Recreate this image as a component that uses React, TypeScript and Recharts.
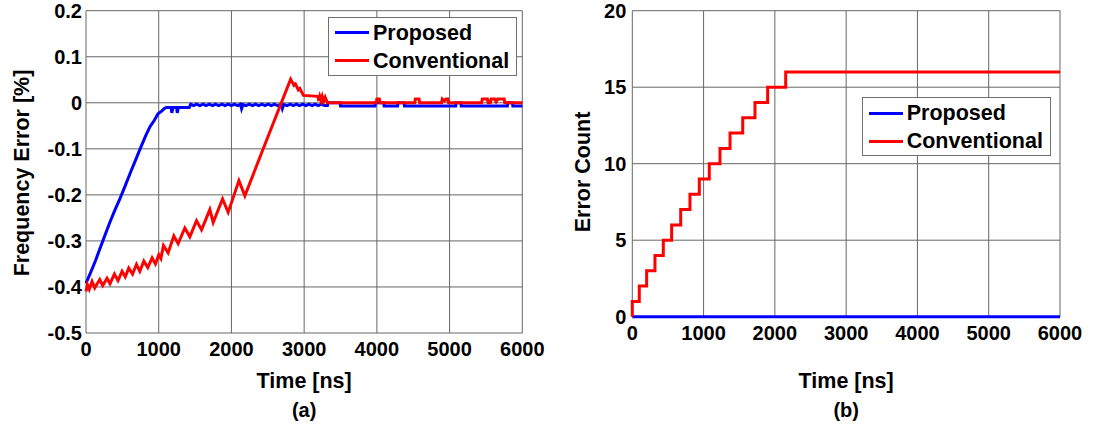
import React from 'react';
import { LineChart, Line, XAxis, YAxis, CartesianGrid, Legend, Label } from 'recharts';

const FONT = "'Liberation Sans', Arial, Helvetica, sans-serif";

// ---------- data ----------
const timeTicks = [0, 1000, 2000, 3000, 4000, 5000, 6000];
const freqTicks = [-0.5, -0.4, -0.3, -0.2, -0.1, 0, 0.1, 0.2];
const countTicks = [0, 5, 10, 15, 20];
const seriesNames = ['Proposed', 'Conventional'];

// (a) Frequency error [%] vs time [ns]
const proposedFreq: [number, number][] = [
  [0, -0.392], [60, -0.37], [130, -0.343], [200, -0.313], [260, -0.288], [330, -0.259],
  [400, -0.232], [470, -0.207], [540, -0.18], [610, -0.152], [680, -0.125], [750, -0.098],
  [820, -0.072], [880, -0.052], [940, -0.038], [990, -0.024], [1040, -0.018], [1080, -0.012],
  [1110, -0.01], [1170, -0.01], [1180, -0.022], [1195, -0.01], [1245, -0.01], [1255, -0.022],
  [1270, -0.01], [1420, -0.01], [1440, -0.003], [1480, -0.006], [1520, -0.003], [1565, -0.006],
  [1610, -0.003], [1650, -0.006], [1695, -0.003], [1740, -0.006], [1780, -0.003], [1825, -0.006],
  [1870, -0.003], [1910, -0.006], [1955, -0.003], [2000, -0.006], [2040, -0.003], [2085, -0.006],
  [2125, -0.003], [2140, -0.013], [2160, -0.004], [2200, -0.006], [2245, -0.003], [2290, -0.006],
  [2330, -0.003], [2375, -0.006], [2420, -0.003], [2460, -0.006], [2505, -0.003], [2550, -0.006],
  [2590, -0.003], [2635, -0.006], [2680, -0.003], [2700, -0.013], [2720, -0.004], [2765, -0.006],
  [2810, -0.003], [2850, -0.006], [2895, -0.003], [2935, -0.006], [2980, -0.003], [3025, -0.006],
  [3065, -0.003], [3110, -0.006], [3150, -0.003], [3195, -0.006], [3235, -0.003], [3280, -0.006],
  [3320, -0.006], [3325, 0], [3495, 0], [3500, -0.007], [3975, -0.007], [3980, 0], [4095, 0],
  [4100, -0.007], [4285, -0.007], [4290, 0], [4375, 0], [4380, -0.007], [5085, -0.007], [5090, 0],
  [5155, 0], [5160, -0.007], [5795, -0.007], [5800, 0], [5865, 0], [5870, -0.007], [6000, -0.007],
];

const conventionalFreq: [number, number][] = [
  [0, -0.41], [20, -0.395], [45, -0.405], [83, -0.388], [120, -0.402], [189, -0.384],
  [230, -0.397], [289, -0.381], [330, -0.393], [391, -0.372], [440, -0.386], [496, -0.366],
  [540, -0.378], [588, -0.359], [640, -0.372], [694, -0.351], [740, -0.366], [795, -0.344],
  [850, -0.358], [909, -0.337], [955, -0.35], [1001, -0.33], [1030, -0.338], [1065, -0.31],
  [1129, -0.326], [1208, -0.289], [1267, -0.306], [1359, -0.272], [1428, -0.291], [1520, -0.256],
  [1589, -0.276], [1703, -0.232], [1749, -0.26], [1878, -0.209], [1955, -0.238], [2103, -0.169],
  [2185, -0.202], [2437, -0.1], [2814, 0.051], [2860, 0.038], [2880, 0.041], [2920, 0.028],
  [2940, 0.031], [2990, 0.016], [3190, 0.014], [3200, 0.004], [3215, 0.014], [3235, 0.004],
  [3250, 0.014], [3270, 0.004], [3290, 0.012], [3320, 0], [3990, 0], [4000, 0.008], [4035, 0.008],
  [4045, 0], [4520, 0], [4530, 0.008], [4580, 0.008], [4590, 0], [4890, 0], [4900, 0.008],
  [4930, 0.004], [4950, 0.008], [4975, 0.008], [4985, 0], [5440, 0], [5450, 0.008], [5520, 0.008],
  [5530, 0], [5560, 0], [5570, 0.008], [5620, 0.008], [5640, 0.002], [5660, 0.008], [5750, 0.008],
  [5760, 0], [6000, 0],
];

// (b) Error count vs time [ns]
const proposedCount: [number, number][] = [[0, 0], [6000, 0]];
const conventionalCount: [number, number][] = [
  [0, 0], [0, 1], [98, 2], [201, 3], [318, 4], [435, 5], [552, 6], [679, 7], [809, 8],
  [940, 9], [1080, 10], [1230, 11], [1371, 12], [1549, 13], [1721, 14], [1899, 15],
  [2152, 16], [6000, 16],
];

const toRows = (pairs: [number, number][]) => pairs.map(([t, v]) => ({ t, v }));

// ---------- pieces ----------
const tickStyle = { fill: '#000', fontSize: 20, fontWeight: 700, fontFamily: FONT };
const GRID = '#666666';

function LegendBox(props: any) {
  const items = [...(props.payload || [])].sort(
    (a: any, b: any) => seriesNames.indexOf(a.value) - seriesNames.indexOf(b.value)
  );
  return (
    <div
      style={{
        width: 189, height: 59, boxSizing: 'border-box', border: '1px solid #707070',
        background: '#fff', position: 'relative', fontFamily: FONT, fontWeight: 700,
        fontSize: 21.5, color: '#000',
      }}
    >
      {items.map((it: any, i: number) => (
        <div key={i} style={{ position: 'absolute', left: 0, top: 1 + i * 28, height: 28, width: '100%' }}>
          <span style={{ position: 'absolute', left: 6, width: 34, height: 3, top: 12.5, background: it.color }} />
          <span style={{ position: 'absolute', left: 44, top: 0, lineHeight: '28px', whiteSpace: 'nowrap' }}>
            {it.value}
          </span>
        </div>
      ))}
    </div>
  );
}

function XTitle(props: any) {
  const vb = props.viewBox;
  const cx = vb && typeof vb.x === 'number' ? vb.x + vb.width / 2 : props.fallbackX;
  return (
    <g fontFamily={FONT} fontWeight={700} fill="#000">
      <text x={cx} y={388} textAnchor="middle" fontSize={21.5}>Time [ns]</text>
      <text x={cx} y={417} textAnchor="middle" fontSize={20}>{props.caption}</text>
    </g>
  );
}

function YTitle(props: any) {
  const { cx, cy, text } = props;
  return (
    <text
      x={cx} y={cy} transform={`rotate(-90, ${cx}, ${cy})`} textAnchor="middle"
      dominantBaseline="central" fontFamily={FONT} fontWeight={700} fontSize={21.5} fill="#000"
    >
      {text}
    </text>
  );
}

const fmtFreq = (v: number) => (Math.abs(v) < 1e-9 ? '0' : v.toFixed(1));

export default function App() {
  return (
    <div style={{ position: 'absolute', left: 0, top: 0, width: 1098, height: 432, background: '#fff' }}>
      <div style={{ position: 'absolute', left: 0, top: 0 }}>
        <LineChart width={545} height={432} margin={{ top: 10.7, right: 22.7, left: 10, bottom: 69 }}>
          <CartesianGrid stroke={GRID} strokeWidth={1} />
          <XAxis
            type="number" dataKey="t" domain={[0, 6000]} ticks={timeTicks} interval={0}
            axisLine={false} tickLine={false} tickSize={0} tickMargin={9} height={30} tick={tickStyle}
          >
            <Label content={<XTitle caption="(a)" fallbackX={304} />} />
          </XAxis>
          <YAxis
            type="number" domain={[-0.5, 0.2]} ticks={freqTicks} interval={0} width={76}
            axisLine={false} tickLine={false} tickSize={0} tickMargin={4} tick={tickStyle}
            tickFormatter={fmtFreq}
          >
            <Label content={<YTitle text="Frequency Error [%]" cx={21.5} cy={173} />} />
          </YAxis>
          <Legend
            layout="horizontal" verticalAlign="middle" align="center" content={<LegendBox />}
            wrapperStyle={{ left: 328, top: 16.7, width: 189, height: 59 }}
          />
          <Line
            data={toRows(proposedFreq)} dataKey="v" name="Proposed" stroke="#0000ff" strokeWidth={3}
            dot={false} activeDot={false} type="linear" isAnimationActive={false}
          />
          <Line
            data={toRows(conventionalFreq)} dataKey="v" name="Conventional" stroke="#ff0000" strokeWidth={3}
            dot={false} activeDot={false} type="linear" isAnimationActive={false}
          />
        </LineChart>
      </div>
      <div style={{ position: 'absolute', left: 550, top: 0 }}>
        <LineChart width={548} height={432} margin={{ top: 10.7, right: 38, left: 10, bottom: 85.3 }}>
          <CartesianGrid stroke={GRID} strokeWidth={1} />
          <XAxis
            type="number" dataKey="t" domain={[0, 6000]} ticks={timeTicks} interval={0}
            axisLine={false} tickLine={false} tickSize={0} tickMargin={9} height={30} tick={tickStyle}
          >
            <Label content={<XTitle caption="(b)" fallbackX={296} />} />
          </XAxis>
          <YAxis
            type="number" domain={[0, 20]} ticks={countTicks} interval={0} width={72.3}
            axisLine={false} tickLine={false} tickSize={0} tickMargin={6} tick={tickStyle}
          >
            <Label content={<YTitle text="Error Count" cx={33} cy={172} />} />
          </YAxis>
          <Legend
            layout="horizontal" verticalAlign="middle" align="center" content={<LegendBox />}
            wrapperStyle={{ left: 311.7, top: 97.3, width: 189, height: 59 }}
          />
          <Line
            data={toRows(proposedCount)} dataKey="v" name="Proposed" stroke="#0000ff" strokeWidth={3}
            dot={false} activeDot={false} type="linear" isAnimationActive={false}
          />
          <Line
            data={toRows(conventionalCount)} dataKey="v" name="Conventional" stroke="#ff0000" strokeWidth={3}
            dot={false} activeDot={false} type="stepAfter" isAnimationActive={false}
          />
        </LineChart>
      </div>
    </div>
  );
}
